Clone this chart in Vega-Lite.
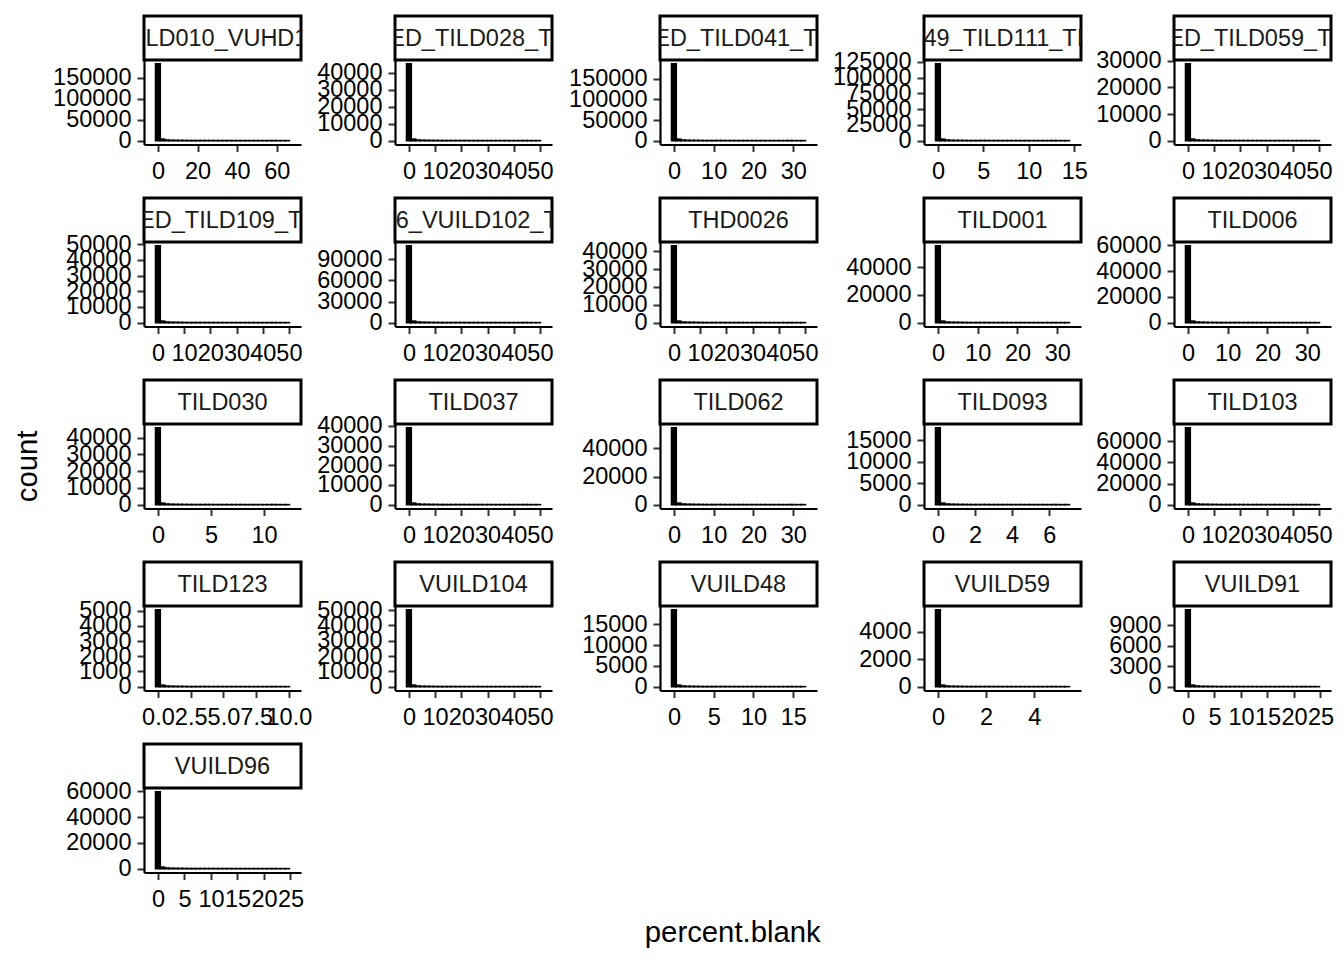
{
"$schema":"https://vega.github.io/schema/vega-lite/v6.json",
"background":"white",
"padding":{"left":13,"top":14,"right":5,"bottom":5},
"config":{"view":{"stroke":null},"font":"Liberation Sans","axis":{"grid":false,"domainColor":"black","domainWidth":2.2,"tickColor":"#333333","tickWidth":2,"tickSize":7,"labelFont":"Liberation Sans","labelFontSize":23.5,"labelColor":"black","labelOverlap":false,"labelFlush":false},"axisX":{"labelPadding":8},"axisY":{"labelPadding":6}},
"datasets":{"h":[
{"p":1,"x":0,"n":183000},{"p":1,"x":2.25,"n":3660},{"p":1,"x":4.5,"n":1464},{"p":1,"x":6.75,"n":915},{"p":1,"x":9,"n":732},{"p":1,"x":11.25,"n":549},{"p":1,"x":13.5,"n":458},{"p":1,"x":15.75,"n":366},{"p":1,"x":18,"n":366},{"p":1,"x":20.25,"n":329},{"p":1,"x":22.5,"n":275},{"p":1,"x":24.75,"n":275},{"p":1,"x":27,"n":220},{"p":1,"x":29.25,"n":183},{"p":1,"x":31.5,"n":183},{"p":1,"x":33.75,"n":183},{"p":1,"x":36,"n":165},{"p":1,"x":38.25,"n":146},{"p":1,"x":40.5,"n":146},{"p":1,"x":42.75,"n":128},{"p":1,"x":45,"n":128},{"p":1,"x":47.25,"n":110},{"p":1,"x":49.5,"n":110},{"p":1,"x":51.75,"n":92},{"p":1,"x":54,"n":92},{"p":1,"x":56.25,"n":92},{"p":1,"x":58.5,"n":73},{"p":1,"x":60.75,"n":73},{"p":1,"x":63,"n":55},{"p":1,"x":65.25,"n":55},
{"p":2,"x":0,"n":45100},{"p":2,"x":1.7,"n":902},{"p":2,"x":3.4,"n":361},{"p":2,"x":5.1,"n":226},{"p":2,"x":6.8,"n":180},{"p":2,"x":8.5,"n":135},{"p":2,"x":10.2,"n":113},{"p":2,"x":11.9,"n":90},{"p":2,"x":13.6,"n":90},{"p":2,"x":15.3,"n":81},{"p":2,"x":17,"n":68},{"p":2,"x":18.7,"n":68},{"p":2,"x":20.4,"n":54},{"p":2,"x":22.1,"n":45},{"p":2,"x":23.8,"n":45},{"p":2,"x":25.5,"n":45},{"p":2,"x":27.2,"n":41},{"p":2,"x":28.9,"n":36},{"p":2,"x":30.6,"n":36},{"p":2,"x":32.3,"n":32},{"p":2,"x":34,"n":32},{"p":2,"x":35.7,"n":27},{"p":2,"x":37.4,"n":27},{"p":2,"x":39.1,"n":23},{"p":2,"x":40.8,"n":23},{"p":2,"x":42.5,"n":23},{"p":2,"x":44.2,"n":18},{"p":2,"x":45.9,"n":18},{"p":2,"x":47.6,"n":14},{"p":2,"x":49.3,"n":14},
{"p":3,"x":0,"n":186000},{"p":3,"x":1.12,"n":3720},{"p":3,"x":2.24,"n":1488},{"p":3,"x":3.36,"n":930},{"p":3,"x":4.48,"n":744},{"p":3,"x":5.6,"n":558},{"p":3,"x":6.72,"n":465},{"p":3,"x":7.84,"n":372},{"p":3,"x":8.96,"n":372},{"p":3,"x":10.08,"n":335},{"p":3,"x":11.2,"n":279},{"p":3,"x":12.32,"n":279},{"p":3,"x":13.44,"n":223},{"p":3,"x":14.56,"n":186},{"p":3,"x":15.68,"n":186},{"p":3,"x":16.8,"n":186},{"p":3,"x":17.92,"n":167},{"p":3,"x":19.04,"n":149},{"p":3,"x":20.16,"n":149},{"p":3,"x":21.28,"n":130},{"p":3,"x":22.4,"n":130},{"p":3,"x":23.52,"n":112},{"p":3,"x":24.64,"n":112},{"p":3,"x":25.76,"n":93},{"p":3,"x":26.88,"n":93},{"p":3,"x":28,"n":93},{"p":3,"x":29.12,"n":74},{"p":3,"x":30.24,"n":74},{"p":3,"x":31.36,"n":56},{"p":3,"x":32.48,"n":56},
{"p":4,"x":0,"n":122000},{"p":4,"x":0.49,"n":2440},{"p":4,"x":0.98,"n":976},{"p":4,"x":1.47,"n":610},{"p":4,"x":1.96,"n":488},{"p":4,"x":2.45,"n":366},{"p":4,"x":2.94,"n":305},{"p":4,"x":3.43,"n":244},{"p":4,"x":3.92,"n":244},{"p":4,"x":4.41,"n":220},{"p":4,"x":4.9,"n":183},{"p":4,"x":5.39,"n":183},{"p":4,"x":5.88,"n":146},{"p":4,"x":6.37,"n":122},{"p":4,"x":6.86,"n":122},{"p":4,"x":7.35,"n":122},{"p":4,"x":7.84,"n":110},{"p":4,"x":8.33,"n":98},{"p":4,"x":8.82,"n":98},{"p":4,"x":9.31,"n":85},{"p":4,"x":9.8,"n":85},{"p":4,"x":10.29,"n":73},{"p":4,"x":10.78,"n":73},{"p":4,"x":11.27,"n":61},{"p":4,"x":11.76,"n":61},{"p":4,"x":12.25,"n":61},{"p":4,"x":12.74,"n":49},{"p":4,"x":13.23,"n":49},{"p":4,"x":13.72,"n":37},{"p":4,"x":14.21,"n":37},
{"p":5,"x":0,"n":28900},{"p":5,"x":1.7,"n":578},{"p":5,"x":3.4,"n":231},{"p":5,"x":5.1,"n":145},{"p":5,"x":6.8,"n":116},{"p":5,"x":8.5,"n":87},{"p":5,"x":10.2,"n":72},{"p":5,"x":11.9,"n":58},{"p":5,"x":13.6,"n":58},{"p":5,"x":15.3,"n":52},{"p":5,"x":17,"n":43},{"p":5,"x":18.7,"n":43},{"p":5,"x":20.4,"n":35},{"p":5,"x":22.1,"n":29},{"p":5,"x":23.8,"n":29},{"p":5,"x":25.5,"n":29},{"p":5,"x":27.2,"n":26},{"p":5,"x":28.9,"n":23},{"p":5,"x":30.6,"n":23},{"p":5,"x":32.3,"n":20},{"p":5,"x":34,"n":20},{"p":5,"x":35.7,"n":17},{"p":5,"x":37.4,"n":17},{"p":5,"x":39.1,"n":14},{"p":5,"x":40.8,"n":14},{"p":5,"x":42.5,"n":14},{"p":5,"x":44.2,"n":12},{"p":5,"x":45.9,"n":12},{"p":5,"x":47.6,"n":9},{"p":5,"x":49.3,"n":9},
{"p":6,"x":0,"n":49000},{"p":6,"x":1.7,"n":980},{"p":6,"x":3.4,"n":392},{"p":6,"x":5.1,"n":245},{"p":6,"x":6.8,"n":196},{"p":6,"x":8.5,"n":147},{"p":6,"x":10.2,"n":123},{"p":6,"x":11.9,"n":98},{"p":6,"x":13.6,"n":98},{"p":6,"x":15.3,"n":88},{"p":6,"x":17,"n":74},{"p":6,"x":18.7,"n":74},{"p":6,"x":20.4,"n":59},{"p":6,"x":22.1,"n":49},{"p":6,"x":23.8,"n":49},{"p":6,"x":25.5,"n":49},{"p":6,"x":27.2,"n":44},{"p":6,"x":28.9,"n":39},{"p":6,"x":30.6,"n":39},{"p":6,"x":32.3,"n":34},{"p":6,"x":34,"n":34},{"p":6,"x":35.7,"n":29},{"p":6,"x":37.4,"n":29},{"p":6,"x":39.1,"n":25},{"p":6,"x":40.8,"n":25},{"p":6,"x":42.5,"n":25},{"p":6,"x":44.2,"n":20},{"p":6,"x":45.9,"n":20},{"p":6,"x":47.6,"n":15},{"p":6,"x":49.3,"n":15},
{"p":7,"x":0,"n":109000},{"p":7,"x":1.7,"n":2180},{"p":7,"x":3.4,"n":872},{"p":7,"x":5.1,"n":545},{"p":7,"x":6.8,"n":436},{"p":7,"x":8.5,"n":327},{"p":7,"x":10.2,"n":273},{"p":7,"x":11.9,"n":218},{"p":7,"x":13.6,"n":218},{"p":7,"x":15.3,"n":196},{"p":7,"x":17,"n":164},{"p":7,"x":18.7,"n":164},{"p":7,"x":20.4,"n":131},{"p":7,"x":22.1,"n":109},{"p":7,"x":23.8,"n":109},{"p":7,"x":25.5,"n":109},{"p":7,"x":27.2,"n":98},{"p":7,"x":28.9,"n":87},{"p":7,"x":30.6,"n":87},{"p":7,"x":32.3,"n":76},{"p":7,"x":34,"n":76},{"p":7,"x":35.7,"n":65},{"p":7,"x":37.4,"n":65},{"p":7,"x":39.1,"n":55},{"p":7,"x":40.8,"n":55},{"p":7,"x":42.5,"n":55},{"p":7,"x":44.2,"n":44},{"p":7,"x":45.9,"n":44},{"p":7,"x":47.6,"n":33},{"p":7,"x":49.3,"n":33},
{"p":8,"x":0,"n":43000},{"p":8,"x":1.7,"n":860},{"p":8,"x":3.4,"n":344},{"p":8,"x":5.1,"n":215},{"p":8,"x":6.8,"n":172},{"p":8,"x":8.5,"n":129},{"p":8,"x":10.2,"n":108},{"p":8,"x":11.9,"n":86},{"p":8,"x":13.6,"n":86},{"p":8,"x":15.3,"n":77},{"p":8,"x":17,"n":65},{"p":8,"x":18.7,"n":65},{"p":8,"x":20.4,"n":52},{"p":8,"x":22.1,"n":43},{"p":8,"x":23.8,"n":43},{"p":8,"x":25.5,"n":43},{"p":8,"x":27.2,"n":39},{"p":8,"x":28.9,"n":34},{"p":8,"x":30.6,"n":34},{"p":8,"x":32.3,"n":30},{"p":8,"x":34,"n":30},{"p":8,"x":35.7,"n":26},{"p":8,"x":37.4,"n":26},{"p":8,"x":39.1,"n":22},{"p":8,"x":40.8,"n":22},{"p":8,"x":42.5,"n":22},{"p":8,"x":44.2,"n":17},{"p":8,"x":45.9,"n":17},{"p":8,"x":47.6,"n":13},{"p":8,"x":49.3,"n":13},
{"p":9,"x":0,"n":55500},{"p":9,"x":1.12,"n":1110},{"p":9,"x":2.24,"n":444},{"p":9,"x":3.36,"n":278},{"p":9,"x":4.48,"n":222},{"p":9,"x":5.6,"n":167},{"p":9,"x":6.72,"n":139},{"p":9,"x":7.84,"n":111},{"p":9,"x":8.96,"n":111},{"p":9,"x":10.08,"n":100},{"p":9,"x":11.2,"n":83},{"p":9,"x":12.32,"n":83},{"p":9,"x":13.44,"n":67},{"p":9,"x":14.56,"n":56},{"p":9,"x":15.68,"n":56},{"p":9,"x":16.8,"n":56},{"p":9,"x":17.92,"n":50},{"p":9,"x":19.04,"n":44},{"p":9,"x":20.16,"n":44},{"p":9,"x":21.28,"n":39},{"p":9,"x":22.4,"n":39},{"p":9,"x":23.52,"n":33},{"p":9,"x":24.64,"n":33},{"p":9,"x":25.76,"n":28},{"p":9,"x":26.88,"n":28},{"p":9,"x":28,"n":28},{"p":9,"x":29.12,"n":22},{"p":9,"x":30.24,"n":22},{"p":9,"x":31.36,"n":17},{"p":9,"x":32.48,"n":17},
{"p":10,"x":0,"n":59500},{"p":10,"x":1.12,"n":1190},{"p":10,"x":2.24,"n":476},{"p":10,"x":3.36,"n":298},{"p":10,"x":4.48,"n":238},{"p":10,"x":5.6,"n":179},{"p":10,"x":6.72,"n":149},{"p":10,"x":7.84,"n":119},{"p":10,"x":8.96,"n":119},{"p":10,"x":10.08,"n":107},{"p":10,"x":11.2,"n":89},{"p":10,"x":12.32,"n":89},{"p":10,"x":13.44,"n":71},{"p":10,"x":14.56,"n":60},{"p":10,"x":15.68,"n":60},{"p":10,"x":16.8,"n":60},{"p":10,"x":17.92,"n":54},{"p":10,"x":19.04,"n":48},{"p":10,"x":20.16,"n":48},{"p":10,"x":21.28,"n":42},{"p":10,"x":22.4,"n":42},{"p":10,"x":23.52,"n":36},{"p":10,"x":24.64,"n":36},{"p":10,"x":25.76,"n":30},{"p":10,"x":26.88,"n":30},{"p":10,"x":28,"n":30},{"p":10,"x":29.12,"n":24},{"p":10,"x":30.24,"n":24},{"p":10,"x":31.36,"n":18},{"p":10,"x":32.48,"n":18},
{"p":11,"x":0,"n":45800},{"p":11,"x":0.42,"n":916},{"p":11,"x":0.84,"n":366},{"p":11,"x":1.26,"n":229},{"p":11,"x":1.68,"n":183},{"p":11,"x":2.1,"n":137},{"p":11,"x":2.52,"n":115},{"p":11,"x":2.94,"n":92},{"p":11,"x":3.36,"n":92},{"p":11,"x":3.78,"n":82},{"p":11,"x":4.2,"n":69},{"p":11,"x":4.62,"n":69},{"p":11,"x":5.04,"n":55},{"p":11,"x":5.46,"n":46},{"p":11,"x":5.88,"n":46},{"p":11,"x":6.3,"n":46},{"p":11,"x":6.72,"n":41},{"p":11,"x":7.14,"n":37},{"p":11,"x":7.56,"n":37},{"p":11,"x":7.98,"n":32},{"p":11,"x":8.4,"n":32},{"p":11,"x":8.82,"n":27},{"p":11,"x":9.24,"n":27},{"p":11,"x":9.66,"n":23},{"p":11,"x":10.08,"n":23},{"p":11,"x":10.5,"n":23},{"p":11,"x":10.92,"n":18},{"p":11,"x":11.34,"n":18},{"p":11,"x":11.76,"n":14},{"p":11,"x":12.18,"n":14},
{"p":12,"x":0,"n":39000},{"p":12,"x":1.7,"n":780},{"p":12,"x":3.4,"n":312},{"p":12,"x":5.1,"n":195},{"p":12,"x":6.8,"n":156},{"p":12,"x":8.5,"n":117},{"p":12,"x":10.2,"n":98},{"p":12,"x":11.9,"n":78},{"p":12,"x":13.6,"n":78},{"p":12,"x":15.3,"n":70},{"p":12,"x":17,"n":59},{"p":12,"x":18.7,"n":59},{"p":12,"x":20.4,"n":47},{"p":12,"x":22.1,"n":39},{"p":12,"x":23.8,"n":39},{"p":12,"x":25.5,"n":39},{"p":12,"x":27.2,"n":35},{"p":12,"x":28.9,"n":31},{"p":12,"x":30.6,"n":31},{"p":12,"x":32.3,"n":27},{"p":12,"x":34,"n":27},{"p":12,"x":35.7,"n":23},{"p":12,"x":37.4,"n":23},{"p":12,"x":39.1,"n":20},{"p":12,"x":40.8,"n":20},{"p":12,"x":42.5,"n":20},{"p":12,"x":44.2,"n":16},{"p":12,"x":45.9,"n":16},{"p":12,"x":47.6,"n":12},{"p":12,"x":49.3,"n":12},
{"p":13,"x":0,"n":54600},{"p":13,"x":1.12,"n":1092},{"p":13,"x":2.24,"n":437},{"p":13,"x":3.36,"n":273},{"p":13,"x":4.48,"n":218},{"p":13,"x":5.6,"n":164},{"p":13,"x":6.72,"n":137},{"p":13,"x":7.84,"n":109},{"p":13,"x":8.96,"n":109},{"p":13,"x":10.08,"n":98},{"p":13,"x":11.2,"n":82},{"p":13,"x":12.32,"n":82},{"p":13,"x":13.44,"n":66},{"p":13,"x":14.56,"n":55},{"p":13,"x":15.68,"n":55},{"p":13,"x":16.8,"n":55},{"p":13,"x":17.92,"n":49},{"p":13,"x":19.04,"n":44},{"p":13,"x":20.16,"n":44},{"p":13,"x":21.28,"n":38},{"p":13,"x":22.4,"n":38},{"p":13,"x":23.52,"n":33},{"p":13,"x":24.64,"n":33},{"p":13,"x":25.76,"n":27},{"p":13,"x":26.88,"n":27},{"p":13,"x":28,"n":27},{"p":13,"x":29.12,"n":22},{"p":13,"x":30.24,"n":22},{"p":13,"x":31.36,"n":16},{"p":13,"x":32.48,"n":16},
{"p":14,"x":0,"n":17900},{"p":14,"x":0.24,"n":358},{"p":14,"x":0.48,"n":143},{"p":14,"x":0.72,"n":90},{"p":14,"x":0.96,"n":72},{"p":14,"x":1.2,"n":54},{"p":14,"x":1.44,"n":45},{"p":14,"x":1.68,"n":36},{"p":14,"x":1.92,"n":36},{"p":14,"x":2.16,"n":32},{"p":14,"x":2.4,"n":27},{"p":14,"x":2.64,"n":27},{"p":14,"x":2.88,"n":21},{"p":14,"x":3.12,"n":18},{"p":14,"x":3.36,"n":18},{"p":14,"x":3.6,"n":18},{"p":14,"x":3.84,"n":16},{"p":14,"x":4.08,"n":14},{"p":14,"x":4.32,"n":14},{"p":14,"x":4.56,"n":13},{"p":14,"x":4.8,"n":13},{"p":14,"x":5.04,"n":11},{"p":14,"x":5.28,"n":11},{"p":14,"x":5.52,"n":9},{"p":14,"x":5.76,"n":9},{"p":14,"x":6,"n":9},{"p":14,"x":6.24,"n":7},{"p":14,"x":6.48,"n":7},{"p":14,"x":6.72,"n":5},{"p":14,"x":6.96,"n":5},
{"p":15,"x":0,"n":72800},{"p":15,"x":1.7,"n":1456},{"p":15,"x":3.4,"n":582},{"p":15,"x":5.1,"n":364},{"p":15,"x":6.8,"n":291},{"p":15,"x":8.5,"n":218},{"p":15,"x":10.2,"n":182},{"p":15,"x":11.9,"n":146},{"p":15,"x":13.6,"n":146},{"p":15,"x":15.3,"n":131},{"p":15,"x":17,"n":109},{"p":15,"x":18.7,"n":109},{"p":15,"x":20.4,"n":87},{"p":15,"x":22.1,"n":73},{"p":15,"x":23.8,"n":73},{"p":15,"x":25.5,"n":73},{"p":15,"x":27.2,"n":66},{"p":15,"x":28.9,"n":58},{"p":15,"x":30.6,"n":58},{"p":15,"x":32.3,"n":51},{"p":15,"x":34,"n":51},{"p":15,"x":35.7,"n":44},{"p":15,"x":37.4,"n":44},{"p":15,"x":39.1,"n":36},{"p":15,"x":40.8,"n":36},{"p":15,"x":42.5,"n":36},{"p":15,"x":44.2,"n":29},{"p":15,"x":45.9,"n":29},{"p":15,"x":47.6,"n":22},{"p":15,"x":49.3,"n":22},
{"p":16,"x":0,"n":5050},{"p":16,"x":0.34,"n":101},{"p":16,"x":0.68,"n":40},{"p":16,"x":1.02,"n":25},{"p":16,"x":1.36,"n":20},{"p":16,"x":1.7,"n":15},{"p":16,"x":2.04,"n":13},{"p":16,"x":2.38,"n":10},{"p":16,"x":2.72,"n":10},{"p":16,"x":3.06,"n":9},{"p":16,"x":3.4,"n":8},{"p":16,"x":3.74,"n":8},{"p":16,"x":4.08,"n":6},{"p":16,"x":4.42,"n":5},{"p":16,"x":4.76,"n":5},{"p":16,"x":5.1,"n":5},{"p":16,"x":5.44,"n":5},{"p":16,"x":5.78,"n":4},{"p":16,"x":6.12,"n":4},{"p":16,"x":6.46,"n":4},{"p":16,"x":6.8,"n":4},{"p":16,"x":7.14,"n":3},{"p":16,"x":7.48,"n":3},{"p":16,"x":7.82,"n":3},{"p":16,"x":8.16,"n":3},{"p":16,"x":8.5,"n":3},{"p":16,"x":8.84,"n":2},{"p":16,"x":9.18,"n":2},{"p":16,"x":9.52,"n":2},{"p":16,"x":9.86,"n":2},
{"p":17,"x":0,"n":50200},{"p":17,"x":1.7,"n":1004},{"p":17,"x":3.4,"n":402},{"p":17,"x":5.1,"n":251},{"p":17,"x":6.8,"n":201},{"p":17,"x":8.5,"n":151},{"p":17,"x":10.2,"n":126},{"p":17,"x":11.9,"n":100},{"p":17,"x":13.6,"n":100},{"p":17,"x":15.3,"n":90},{"p":17,"x":17,"n":75},{"p":17,"x":18.7,"n":75},{"p":17,"x":20.4,"n":60},{"p":17,"x":22.1,"n":50},{"p":17,"x":23.8,"n":50},{"p":17,"x":25.5,"n":50},{"p":17,"x":27.2,"n":45},{"p":17,"x":28.9,"n":40},{"p":17,"x":30.6,"n":40},{"p":17,"x":32.3,"n":35},{"p":17,"x":34,"n":35},{"p":17,"x":35.7,"n":30},{"p":17,"x":37.4,"n":30},{"p":17,"x":39.1,"n":25},{"p":17,"x":40.8,"n":25},{"p":17,"x":42.5,"n":25},{"p":17,"x":44.2,"n":20},{"p":17,"x":45.9,"n":20},{"p":17,"x":47.6,"n":15},{"p":17,"x":49.3,"n":15},
{"p":18,"x":0,"n":18500},{"p":18,"x":0.56,"n":370},{"p":18,"x":1.12,"n":148},{"p":18,"x":1.68,"n":93},{"p":18,"x":2.24,"n":74},{"p":18,"x":2.8,"n":56},{"p":18,"x":3.36,"n":46},{"p":18,"x":3.92,"n":37},{"p":18,"x":4.48,"n":37},{"p":18,"x":5.04,"n":33},{"p":18,"x":5.6,"n":28},{"p":18,"x":6.16,"n":28},{"p":18,"x":6.72,"n":22},{"p":18,"x":7.28,"n":19},{"p":18,"x":7.84,"n":19},{"p":18,"x":8.4,"n":19},{"p":18,"x":8.96,"n":17},{"p":18,"x":9.52,"n":15},{"p":18,"x":10.08,"n":15},{"p":18,"x":10.64,"n":13},{"p":18,"x":11.2,"n":13},{"p":18,"x":11.76,"n":11},{"p":18,"x":12.32,"n":11},{"p":18,"x":12.88,"n":9},{"p":18,"x":13.44,"n":9},{"p":18,"x":14,"n":9},{"p":18,"x":14.56,"n":7},{"p":18,"x":15.12,"n":7},{"p":18,"x":15.68,"n":6},{"p":18,"x":16.24,"n":6},
{"p":19,"x":0,"n":5600},{"p":19,"x":0.185,"n":112},{"p":19,"x":0.37,"n":45},{"p":19,"x":0.555,"n":28},{"p":19,"x":0.74,"n":22},{"p":19,"x":0.925,"n":17},{"p":19,"x":1.11,"n":14},{"p":19,"x":1.295,"n":11},{"p":19,"x":1.48,"n":11},{"p":19,"x":1.665,"n":10},{"p":19,"x":1.85,"n":8},{"p":19,"x":2.035,"n":8},{"p":19,"x":2.22,"n":7},{"p":19,"x":2.405,"n":6},{"p":19,"x":2.59,"n":6},{"p":19,"x":2.775,"n":6},{"p":19,"x":2.96,"n":5},{"p":19,"x":3.145,"n":4},{"p":19,"x":3.33,"n":4},{"p":19,"x":3.515,"n":4},{"p":19,"x":3.7,"n":4},{"p":19,"x":3.885,"n":3},{"p":19,"x":4.07,"n":3},{"p":19,"x":4.255,"n":3},{"p":19,"x":4.44,"n":3},{"p":19,"x":4.625,"n":3},{"p":19,"x":4.81,"n":2},{"p":19,"x":4.995,"n":2},{"p":19,"x":5.18,"n":2},{"p":19,"x":5.365,"n":2},
{"p":20,"x":0,"n":11300},{"p":20,"x":0.84,"n":226},{"p":20,"x":1.68,"n":90},{"p":20,"x":2.52,"n":57},{"p":20,"x":3.36,"n":45},{"p":20,"x":4.2,"n":34},{"p":20,"x":5.04,"n":28},{"p":20,"x":5.88,"n":23},{"p":20,"x":6.72,"n":23},{"p":20,"x":7.56,"n":20},{"p":20,"x":8.4,"n":17},{"p":20,"x":9.24,"n":17},{"p":20,"x":10.08,"n":14},{"p":20,"x":10.92,"n":11},{"p":20,"x":11.76,"n":11},{"p":20,"x":12.6,"n":11},{"p":20,"x":13.44,"n":10},{"p":20,"x":14.28,"n":9},{"p":20,"x":15.12,"n":9},{"p":20,"x":15.96,"n":8},{"p":20,"x":16.8,"n":8},{"p":20,"x":17.64,"n":7},{"p":20,"x":18.48,"n":7},{"p":20,"x":19.32,"n":6},{"p":20,"x":20.16,"n":6},{"p":20,"x":21,"n":6},{"p":20,"x":21.84,"n":5},{"p":20,"x":22.68,"n":5},{"p":20,"x":23.52,"n":3},{"p":20,"x":24.36,"n":3},
{"p":21,"x":0,"n":59500},{"p":21,"x":0.84,"n":1190},{"p":21,"x":1.68,"n":476},{"p":21,"x":2.52,"n":298},{"p":21,"x":3.36,"n":238},{"p":21,"x":4.2,"n":179},{"p":21,"x":5.04,"n":149},{"p":21,"x":5.88,"n":119},{"p":21,"x":6.72,"n":119},{"p":21,"x":7.56,"n":107},{"p":21,"x":8.4,"n":89},{"p":21,"x":9.24,"n":89},{"p":21,"x":10.08,"n":71},{"p":21,"x":10.92,"n":60},{"p":21,"x":11.76,"n":60},{"p":21,"x":12.6,"n":60},{"p":21,"x":13.44,"n":54},{"p":21,"x":14.28,"n":48},{"p":21,"x":15.12,"n":48},{"p":21,"x":15.96,"n":42},{"p":21,"x":16.8,"n":42},{"p":21,"x":17.64,"n":36},{"p":21,"x":18.48,"n":36},{"p":21,"x":19.32,"n":30},{"p":21,"x":20.16,"n":30},{"p":21,"x":21,"n":30},{"p":21,"x":21.84,"n":24},{"p":21,"x":22.68,"n":24},{"p":21,"x":23.52,"n":18},{"p":21,"x":24.36,"n":18}
]},
"title":{"text":"count","orient":"left","fontSize":29.3,"font":"Liberation Sans","fontWeight":"normal","color":"black","anchor":"middle","offset":9,"dx":15},
"vconcat":[{
"title":{"text":"percent.blank","orient":"bottom","fontSize":29.3,"font":"Liberation Sans","fontWeight":"normal","color":"black","anchor":"middle","offset":8,"dx":40},
"columns":5,"align":"each","spacing":{"row":13,"column":4},
"concat":[
{"bounds":"flush","spacing":0,"vconcat":[
{"width":157,"height":44,"data":{"values":[{"l":"TILD010_VUHD10"}]},"view":{"stroke":"black","strokeWidth":3,"fill":"white"},"mark":{"type":"text","clip":true,"fontSize":23.5,"color":"#1a1a1a","dy":1},"encoding":{"text":{"field":"l"},"x":{"datum":0.5,"type":"quantitative","scale":{"domain":[0,1]},"axis":null},"y":{"datum":0.5,"type":"quantitative","scale":{"domain":[0,1]},"axis":null}}},
{"width":157,"height":84.5,"data":{"name":"h"},"transform":[{"filter":"datum.p==1"}],"mark":{"type":"bar","size":4.76,"fill":"black","stroke":"black","strokeWidth":1.6},"encoding":{"x":{"field":"x","type":"quantitative","scale":{"domain":[-4.5,69.75],"nice":false,"zero":false},"axis":{"values":[0,20,40,60],"format":"d","title":null}},"y":{"field":"n","type":"quantitative","scale":{"domain":[-9150,192150],"nice":false,"zero":false},"axis":{"values":[0,50000,100000,150000],"format":"d","title":null,"minExtent":92,"maxExtent":92}},"y2":{"datum":0}}}
]},
{"bounds":"flush","spacing":0,"vconcat":[
{"width":157,"height":44,"data":{"values":[{"l":"MERGED_TILD028_TILD036"}]},"view":{"stroke":"black","strokeWidth":3,"fill":"white"},"mark":{"type":"text","clip":true,"fontSize":23.5,"color":"#1a1a1a","dy":1},"encoding":{"text":{"field":"l"},"x":{"datum":0.5,"type":"quantitative","scale":{"domain":[0,1]},"axis":null},"y":{"datum":0.5,"type":"quantitative","scale":{"domain":[0,1]},"axis":null}}},
{"width":157,"height":84.5,"data":{"name":"h"},"transform":[{"filter":"datum.p==2"}],"mark":{"type":"bar","size":4.76,"fill":"black","stroke":"black","strokeWidth":1.6},"encoding":{"x":{"field":"x","type":"quantitative","scale":{"domain":[-3.4,52.7],"nice":false,"zero":false},"axis":{"values":[0,10,20,30,40,50],"format":"d","title":null}},"y":{"field":"n","type":"quantitative","scale":{"domain":[-2255,47355],"nice":false,"zero":false},"axis":{"values":[0,10000,20000,30000,40000],"format":"d","title":null,"minExtent":79,"maxExtent":79}},"y2":{"datum":0}}}
]},
{"bounds":"flush","spacing":0,"vconcat":[
{"width":157,"height":44,"data":{"values":[{"l":"MERGED_TILD041_TILD045"}]},"view":{"stroke":"black","strokeWidth":3,"fill":"white"},"mark":{"type":"text","clip":true,"fontSize":23.5,"color":"#1a1a1a","dy":1},"encoding":{"text":{"field":"l"},"x":{"datum":0.5,"type":"quantitative","scale":{"domain":[0,1]},"axis":null},"y":{"datum":0.5,"type":"quantitative","scale":{"domain":[0,1]},"axis":null}}},
{"width":157,"height":84.5,"data":{"name":"h"},"transform":[{"filter":"datum.p==3"}],"mark":{"type":"bar","size":4.76,"fill":"black","stroke":"black","strokeWidth":1.6},"encoding":{"x":{"field":"x","type":"quantitative","scale":{"domain":[-2.24,34.72],"nice":false,"zero":false},"axis":{"values":[0,10,20,30],"format":"d","title":null}},"y":{"field":"n","type":"quantitative","scale":{"domain":[-9300,195300],"nice":false,"zero":false},"axis":{"values":[0,50000,100000,150000],"format":"d","title":null,"minExtent":102,"maxExtent":102}},"y2":{"datum":0}}}
]},
{"bounds":"flush","spacing":0,"vconcat":[
{"width":157,"height":44,"data":{"values":[{"l":"VUILD49_TILD111_TILD112"}]},"view":{"stroke":"black","strokeWidth":3,"fill":"white"},"mark":{"type":"text","clip":true,"fontSize":23.5,"color":"#1a1a1a","dy":1},"encoding":{"text":{"field":"l"},"x":{"datum":0.5,"type":"quantitative","scale":{"domain":[0,1]},"axis":null},"y":{"datum":0.5,"type":"quantitative","scale":{"domain":[0,1]},"axis":null}}},
{"width":157,"height":84.5,"data":{"name":"h"},"transform":[{"filter":"datum.p==4"}],"mark":{"type":"bar","size":4.76,"fill":"black","stroke":"black","strokeWidth":1.6},"encoding":{"x":{"field":"x","type":"quantitative","scale":{"domain":[-0.98,15.19],"nice":false,"zero":false},"axis":{"values":[0,5,10,15],"format":"d","title":null}},"y":{"field":"n","type":"quantitative","scale":{"domain":[-6100,128100],"nice":false,"zero":false},"axis":{"values":[0,25000,50000,75000,100000,125000],"format":"d","title":null,"minExtent":100.5,"maxExtent":100.5}},"y2":{"datum":0}}}
]},
{"bounds":"flush","spacing":0,"vconcat":[
{"width":157,"height":44,"data":{"values":[{"l":"MERGED_TILD059_TILD060"}]},"view":{"stroke":"black","strokeWidth":3,"fill":"white"},"mark":{"type":"text","clip":true,"fontSize":23.5,"color":"#1a1a1a","dy":1},"encoding":{"text":{"field":"l"},"x":{"datum":0.5,"type":"quantitative","scale":{"domain":[0,1]},"axis":null},"y":{"datum":0.5,"type":"quantitative","scale":{"domain":[0,1]},"axis":null}}},
{"width":157,"height":84.5,"data":{"name":"h"},"transform":[{"filter":"datum.p==5"}],"mark":{"type":"bar","size":4.76,"fill":"black","stroke":"black","strokeWidth":1.6},"encoding":{"x":{"field":"x","type":"quantitative","scale":{"domain":[-3.4,52.7],"nice":false,"zero":false},"axis":{"values":[0,10,20,30,40,50],"format":"d","title":null}},"y":{"field":"n","type":"quantitative","scale":{"domain":[-1445,30345],"nice":false,"zero":false},"axis":{"values":[0,10000,20000,30000],"format":"d","title":null,"minExtent":82,"maxExtent":82}},"y2":{"datum":0}}}
]},
{"bounds":"flush","spacing":0,"vconcat":[
{"width":157,"height":44,"data":{"values":[{"l":"MERGED_TILD109_TILD110"}]},"view":{"stroke":"black","strokeWidth":3,"fill":"white"},"mark":{"type":"text","clip":true,"fontSize":23.5,"color":"#1a1a1a","dy":1},"encoding":{"text":{"field":"l"},"x":{"datum":0.5,"type":"quantitative","scale":{"domain":[0,1]},"axis":null},"y":{"datum":0.5,"type":"quantitative","scale":{"domain":[0,1]},"axis":null}}},
{"width":157,"height":84.5,"data":{"name":"h"},"transform":[{"filter":"datum.p==6"}],"mark":{"type":"bar","size":4.76,"fill":"black","stroke":"black","strokeWidth":1.6},"encoding":{"x":{"field":"x","type":"quantitative","scale":{"domain":[-3.4,52.7],"nice":false,"zero":false},"axis":{"values":[0,10,20,30,40,50],"format":"d","title":null}},"y":{"field":"n","type":"quantitative","scale":{"domain":[-2450,51450],"nice":false,"zero":false},"axis":{"values":[0,10000,20000,30000,40000,50000],"format":"d","title":null,"minExtent":92,"maxExtent":92}},"y2":{"datum":0}}}
]},
{"bounds":"flush","spacing":0,"vconcat":[
{"width":157,"height":44,"data":{"values":[{"l":"VUILD106_VUILD102_TILD1032"}]},"view":{"stroke":"black","strokeWidth":3,"fill":"white"},"mark":{"type":"text","clip":true,"fontSize":23.5,"color":"#1a1a1a","dy":1},"encoding":{"text":{"field":"l"},"x":{"datum":0.5,"type":"quantitative","scale":{"domain":[0,1]},"axis":null},"y":{"datum":0.5,"type":"quantitative","scale":{"domain":[0,1]},"axis":null}}},
{"width":157,"height":84.5,"data":{"name":"h"},"transform":[{"filter":"datum.p==7"}],"mark":{"type":"bar","size":4.76,"fill":"black","stroke":"black","strokeWidth":1.6},"encoding":{"x":{"field":"x","type":"quantitative","scale":{"domain":[-3.4,52.7],"nice":false,"zero":false},"axis":{"values":[0,10,20,30,40,50],"format":"d","title":null}},"y":{"field":"n","type":"quantitative","scale":{"domain":[-5450,114450],"nice":false,"zero":false},"axis":{"values":[0,30000,60000,90000],"format":"d","title":null,"minExtent":79,"maxExtent":79}},"y2":{"datum":0}}}
]},
{"bounds":"flush","spacing":0,"vconcat":[
{"width":157,"height":44,"data":{"values":[{"l":"THD0026"}]},"view":{"stroke":"black","strokeWidth":3,"fill":"white"},"mark":{"type":"text","clip":true,"fontSize":23.5,"color":"#1a1a1a","dy":1},"encoding":{"text":{"field":"l"},"x":{"datum":0.5,"type":"quantitative","scale":{"domain":[0,1]},"axis":null},"y":{"datum":0.5,"type":"quantitative","scale":{"domain":[0,1]},"axis":null}}},
{"width":157,"height":84.5,"data":{"name":"h"},"transform":[{"filter":"datum.p==8"}],"mark":{"type":"bar","size":4.76,"fill":"black","stroke":"black","strokeWidth":1.6},"encoding":{"x":{"field":"x","type":"quantitative","scale":{"domain":[-3.4,52.7],"nice":false,"zero":false},"axis":{"values":[0,10,20,30,40,50],"format":"d","title":null}},"y":{"field":"n","type":"quantitative","scale":{"domain":[-2150,45150],"nice":false,"zero":false},"axis":{"values":[0,10000,20000,30000,40000],"format":"d","title":null,"minExtent":102,"maxExtent":102}},"y2":{"datum":0}}}
]},
{"bounds":"flush","spacing":0,"vconcat":[
{"width":157,"height":44,"data":{"values":[{"l":"TILD001"}]},"view":{"stroke":"black","strokeWidth":3,"fill":"white"},"mark":{"type":"text","clip":true,"fontSize":23.5,"color":"#1a1a1a","dy":1},"encoding":{"text":{"field":"l"},"x":{"datum":0.5,"type":"quantitative","scale":{"domain":[0,1]},"axis":null},"y":{"datum":0.5,"type":"quantitative","scale":{"domain":[0,1]},"axis":null}}},
{"width":157,"height":84.5,"data":{"name":"h"},"transform":[{"filter":"datum.p==9"}],"mark":{"type":"bar","size":4.76,"fill":"black","stroke":"black","strokeWidth":1.6},"encoding":{"x":{"field":"x","type":"quantitative","scale":{"domain":[-2.24,34.72],"nice":false,"zero":false},"axis":{"values":[0,10,20,30],"format":"d","title":null}},"y":{"field":"n","type":"quantitative","scale":{"domain":[-2775,58275],"nice":false,"zero":false},"axis":{"values":[0,20000,40000],"format":"d","title":null,"minExtent":100.5,"maxExtent":100.5}},"y2":{"datum":0}}}
]},
{"bounds":"flush","spacing":0,"vconcat":[
{"width":157,"height":44,"data":{"values":[{"l":"TILD006"}]},"view":{"stroke":"black","strokeWidth":3,"fill":"white"},"mark":{"type":"text","clip":true,"fontSize":23.5,"color":"#1a1a1a","dy":1},"encoding":{"text":{"field":"l"},"x":{"datum":0.5,"type":"quantitative","scale":{"domain":[0,1]},"axis":null},"y":{"datum":0.5,"type":"quantitative","scale":{"domain":[0,1]},"axis":null}}},
{"width":157,"height":84.5,"data":{"name":"h"},"transform":[{"filter":"datum.p==10"}],"mark":{"type":"bar","size":4.76,"fill":"black","stroke":"black","strokeWidth":1.6},"encoding":{"x":{"field":"x","type":"quantitative","scale":{"domain":[-2.24,34.72],"nice":false,"zero":false},"axis":{"values":[0,10,20,30],"format":"d","title":null}},"y":{"field":"n","type":"quantitative","scale":{"domain":[-2975,62475],"nice":false,"zero":false},"axis":{"values":[0,20000,40000,60000],"format":"d","title":null,"minExtent":82,"maxExtent":82}},"y2":{"datum":0}}}
]},
{"bounds":"flush","spacing":0,"vconcat":[
{"width":157,"height":44,"data":{"values":[{"l":"TILD030"}]},"view":{"stroke":"black","strokeWidth":3,"fill":"white"},"mark":{"type":"text","clip":true,"fontSize":23.5,"color":"#1a1a1a","dy":1},"encoding":{"text":{"field":"l"},"x":{"datum":0.5,"type":"quantitative","scale":{"domain":[0,1]},"axis":null},"y":{"datum":0.5,"type":"quantitative","scale":{"domain":[0,1]},"axis":null}}},
{"width":157,"height":84.5,"data":{"name":"h"},"transform":[{"filter":"datum.p==11"}],"mark":{"type":"bar","size":4.76,"fill":"black","stroke":"black","strokeWidth":1.6},"encoding":{"x":{"field":"x","type":"quantitative","scale":{"domain":[-0.84,13.02],"nice":false,"zero":false},"axis":{"values":[0,5,10],"format":"d","title":null}},"y":{"field":"n","type":"quantitative","scale":{"domain":[-2290,48090],"nice":false,"zero":false},"axis":{"values":[0,10000,20000,30000,40000],"format":"d","title":null,"minExtent":92,"maxExtent":92}},"y2":{"datum":0}}}
]},
{"bounds":"flush","spacing":0,"vconcat":[
{"width":157,"height":44,"data":{"values":[{"l":"TILD037"}]},"view":{"stroke":"black","strokeWidth":3,"fill":"white"},"mark":{"type":"text","clip":true,"fontSize":23.5,"color":"#1a1a1a","dy":1},"encoding":{"text":{"field":"l"},"x":{"datum":0.5,"type":"quantitative","scale":{"domain":[0,1]},"axis":null},"y":{"datum":0.5,"type":"quantitative","scale":{"domain":[0,1]},"axis":null}}},
{"width":157,"height":84.5,"data":{"name":"h"},"transform":[{"filter":"datum.p==12"}],"mark":{"type":"bar","size":4.76,"fill":"black","stroke":"black","strokeWidth":1.6},"encoding":{"x":{"field":"x","type":"quantitative","scale":{"domain":[-3.4,52.7],"nice":false,"zero":false},"axis":{"values":[0,10,20,30,40,50],"format":"d","title":null}},"y":{"field":"n","type":"quantitative","scale":{"domain":[-1950,40950],"nice":false,"zero":false},"axis":{"values":[0,10000,20000,30000,40000],"format":"d","title":null,"minExtent":79,"maxExtent":79}},"y2":{"datum":0}}}
]},
{"bounds":"flush","spacing":0,"vconcat":[
{"width":157,"height":44,"data":{"values":[{"l":"TILD062"}]},"view":{"stroke":"black","strokeWidth":3,"fill":"white"},"mark":{"type":"text","clip":true,"fontSize":23.5,"color":"#1a1a1a","dy":1},"encoding":{"text":{"field":"l"},"x":{"datum":0.5,"type":"quantitative","scale":{"domain":[0,1]},"axis":null},"y":{"datum":0.5,"type":"quantitative","scale":{"domain":[0,1]},"axis":null}}},
{"width":157,"height":84.5,"data":{"name":"h"},"transform":[{"filter":"datum.p==13"}],"mark":{"type":"bar","size":4.76,"fill":"black","stroke":"black","strokeWidth":1.6},"encoding":{"x":{"field":"x","type":"quantitative","scale":{"domain":[-2.24,34.72],"nice":false,"zero":false},"axis":{"values":[0,10,20,30],"format":"d","title":null}},"y":{"field":"n","type":"quantitative","scale":{"domain":[-2730,57330],"nice":false,"zero":false},"axis":{"values":[0,20000,40000],"format":"d","title":null,"minExtent":102,"maxExtent":102}},"y2":{"datum":0}}}
]},
{"bounds":"flush","spacing":0,"vconcat":[
{"width":157,"height":44,"data":{"values":[{"l":"TILD093"}]},"view":{"stroke":"black","strokeWidth":3,"fill":"white"},"mark":{"type":"text","clip":true,"fontSize":23.5,"color":"#1a1a1a","dy":1},"encoding":{"text":{"field":"l"},"x":{"datum":0.5,"type":"quantitative","scale":{"domain":[0,1]},"axis":null},"y":{"datum":0.5,"type":"quantitative","scale":{"domain":[0,1]},"axis":null}}},
{"width":157,"height":84.5,"data":{"name":"h"},"transform":[{"filter":"datum.p==14"}],"mark":{"type":"bar","size":4.76,"fill":"black","stroke":"black","strokeWidth":1.6},"encoding":{"x":{"field":"x","type":"quantitative","scale":{"domain":[-0.48,7.44],"nice":false,"zero":false},"axis":{"values":[0,2,4,6],"format":"d","title":null}},"y":{"field":"n","type":"quantitative","scale":{"domain":[-895,18795],"nice":false,"zero":false},"axis":{"values":[0,5000,10000,15000],"format":"d","title":null,"minExtent":100.5,"maxExtent":100.5}},"y2":{"datum":0}}}
]},
{"bounds":"flush","spacing":0,"vconcat":[
{"width":157,"height":44,"data":{"values":[{"l":"TILD103"}]},"view":{"stroke":"black","strokeWidth":3,"fill":"white"},"mark":{"type":"text","clip":true,"fontSize":23.5,"color":"#1a1a1a","dy":1},"encoding":{"text":{"field":"l"},"x":{"datum":0.5,"type":"quantitative","scale":{"domain":[0,1]},"axis":null},"y":{"datum":0.5,"type":"quantitative","scale":{"domain":[0,1]},"axis":null}}},
{"width":157,"height":84.5,"data":{"name":"h"},"transform":[{"filter":"datum.p==15"}],"mark":{"type":"bar","size":4.76,"fill":"black","stroke":"black","strokeWidth":1.6},"encoding":{"x":{"field":"x","type":"quantitative","scale":{"domain":[-3.4,52.7],"nice":false,"zero":false},"axis":{"values":[0,10,20,30,40,50],"format":"d","title":null}},"y":{"field":"n","type":"quantitative","scale":{"domain":[-3640,76440],"nice":false,"zero":false},"axis":{"values":[0,20000,40000,60000],"format":"d","title":null,"minExtent":82,"maxExtent":82}},"y2":{"datum":0}}}
]},
{"bounds":"flush","spacing":0,"vconcat":[
{"width":157,"height":44,"data":{"values":[{"l":"TILD123"}]},"view":{"stroke":"black","strokeWidth":3,"fill":"white"},"mark":{"type":"text","clip":true,"fontSize":23.5,"color":"#1a1a1a","dy":1},"encoding":{"text":{"field":"l"},"x":{"datum":0.5,"type":"quantitative","scale":{"domain":[0,1]},"axis":null},"y":{"datum":0.5,"type":"quantitative","scale":{"domain":[0,1]},"axis":null}}},
{"width":157,"height":84.5,"data":{"name":"h"},"transform":[{"filter":"datum.p==16"}],"mark":{"type":"bar","size":4.76,"fill":"black","stroke":"black","strokeWidth":1.6},"encoding":{"x":{"field":"x","type":"quantitative","scale":{"domain":[-0.68,10.54],"nice":false,"zero":false},"axis":{"values":[0,2.5,5,7.5,10],"format":".1f","title":null}},"y":{"field":"n","type":"quantitative","scale":{"domain":[-252.5,5302.5],"nice":false,"zero":false},"axis":{"values":[0,1000,2000,3000,4000,5000],"format":"d","title":null,"minExtent":92,"maxExtent":92}},"y2":{"datum":0}}}
]},
{"bounds":"flush","spacing":0,"vconcat":[
{"width":157,"height":44,"data":{"values":[{"l":"VUILD104"}]},"view":{"stroke":"black","strokeWidth":3,"fill":"white"},"mark":{"type":"text","clip":true,"fontSize":23.5,"color":"#1a1a1a","dy":1},"encoding":{"text":{"field":"l"},"x":{"datum":0.5,"type":"quantitative","scale":{"domain":[0,1]},"axis":null},"y":{"datum":0.5,"type":"quantitative","scale":{"domain":[0,1]},"axis":null}}},
{"width":157,"height":84.5,"data":{"name":"h"},"transform":[{"filter":"datum.p==17"}],"mark":{"type":"bar","size":4.76,"fill":"black","stroke":"black","strokeWidth":1.6},"encoding":{"x":{"field":"x","type":"quantitative","scale":{"domain":[-3.4,52.7],"nice":false,"zero":false},"axis":{"values":[0,10,20,30,40,50],"format":"d","title":null}},"y":{"field":"n","type":"quantitative","scale":{"domain":[-2510,52710],"nice":false,"zero":false},"axis":{"values":[0,10000,20000,30000,40000,50000],"format":"d","title":null,"minExtent":79,"maxExtent":79}},"y2":{"datum":0}}}
]},
{"bounds":"flush","spacing":0,"vconcat":[
{"width":157,"height":44,"data":{"values":[{"l":"VUILD48"}]},"view":{"stroke":"black","strokeWidth":3,"fill":"white"},"mark":{"type":"text","clip":true,"fontSize":23.5,"color":"#1a1a1a","dy":1},"encoding":{"text":{"field":"l"},"x":{"datum":0.5,"type":"quantitative","scale":{"domain":[0,1]},"axis":null},"y":{"datum":0.5,"type":"quantitative","scale":{"domain":[0,1]},"axis":null}}},
{"width":157,"height":84.5,"data":{"name":"h"},"transform":[{"filter":"datum.p==18"}],"mark":{"type":"bar","size":4.76,"fill":"black","stroke":"black","strokeWidth":1.6},"encoding":{"x":{"field":"x","type":"quantitative","scale":{"domain":[-1.12,17.36],"nice":false,"zero":false},"axis":{"values":[0,5,10,15],"format":"d","title":null}},"y":{"field":"n","type":"quantitative","scale":{"domain":[-925,19425],"nice":false,"zero":false},"axis":{"values":[0,5000,10000,15000],"format":"d","title":null,"minExtent":102,"maxExtent":102}},"y2":{"datum":0}}}
]},
{"bounds":"flush","spacing":0,"vconcat":[
{"width":157,"height":44,"data":{"values":[{"l":"VUILD59"}]},"view":{"stroke":"black","strokeWidth":3,"fill":"white"},"mark":{"type":"text","clip":true,"fontSize":23.5,"color":"#1a1a1a","dy":1},"encoding":{"text":{"field":"l"},"x":{"datum":0.5,"type":"quantitative","scale":{"domain":[0,1]},"axis":null},"y":{"datum":0.5,"type":"quantitative","scale":{"domain":[0,1]},"axis":null}}},
{"width":157,"height":84.5,"data":{"name":"h"},"transform":[{"filter":"datum.p==19"}],"mark":{"type":"bar","size":4.76,"fill":"black","stroke":"black","strokeWidth":1.6},"encoding":{"x":{"field":"x","type":"quantitative","scale":{"domain":[-0.37,5.735],"nice":false,"zero":false},"axis":{"values":[0,2,4],"format":"d","title":null}},"y":{"field":"n","type":"quantitative","scale":{"domain":[-280,5880],"nice":false,"zero":false},"axis":{"values":[0,2000,4000],"format":"d","title":null,"minExtent":100.5,"maxExtent":100.5}},"y2":{"datum":0}}}
]},
{"bounds":"flush","spacing":0,"vconcat":[
{"width":157,"height":44,"data":{"values":[{"l":"VUILD91"}]},"view":{"stroke":"black","strokeWidth":3,"fill":"white"},"mark":{"type":"text","clip":true,"fontSize":23.5,"color":"#1a1a1a","dy":1},"encoding":{"text":{"field":"l"},"x":{"datum":0.5,"type":"quantitative","scale":{"domain":[0,1]},"axis":null},"y":{"datum":0.5,"type":"quantitative","scale":{"domain":[0,1]},"axis":null}}},
{"width":157,"height":84.5,"data":{"name":"h"},"transform":[{"filter":"datum.p==20"}],"mark":{"type":"bar","size":4.76,"fill":"black","stroke":"black","strokeWidth":1.6},"encoding":{"x":{"field":"x","type":"quantitative","scale":{"domain":[-1.68,26.04],"nice":false,"zero":false},"axis":{"values":[0,5,10,15,20,25],"format":"d","title":null}},"y":{"field":"n","type":"quantitative","scale":{"domain":[-565,11865],"nice":false,"zero":false},"axis":{"values":[0,3000,6000,9000],"format":"d","title":null,"minExtent":82,"maxExtent":82}},"y2":{"datum":0}}}
]},
{"bounds":"flush","spacing":0,"vconcat":[
{"width":157,"height":44,"data":{"values":[{"l":"VUILD96"}]},"view":{"stroke":"black","strokeWidth":3,"fill":"white"},"mark":{"type":"text","clip":true,"fontSize":23.5,"color":"#1a1a1a","dy":1},"encoding":{"text":{"field":"l"},"x":{"datum":0.5,"type":"quantitative","scale":{"domain":[0,1]},"axis":null},"y":{"datum":0.5,"type":"quantitative","scale":{"domain":[0,1]},"axis":null}}},
{"width":157,"height":84.5,"data":{"name":"h"},"transform":[{"filter":"datum.p==21"}],"mark":{"type":"bar","size":4.76,"fill":"black","stroke":"black","strokeWidth":1.6},"encoding":{"x":{"field":"x","type":"quantitative","scale":{"domain":[-1.68,26.04],"nice":false,"zero":false},"axis":{"values":[0,5,10,15,20,25],"format":"d","title":null}},"y":{"field":"n","type":"quantitative","scale":{"domain":[-2975,62475],"nice":false,"zero":false},"axis":{"values":[0,20000,40000,60000],"format":"d","title":null,"minExtent":92,"maxExtent":92}},"y2":{"datum":0}}}
]}
]
}]
}
